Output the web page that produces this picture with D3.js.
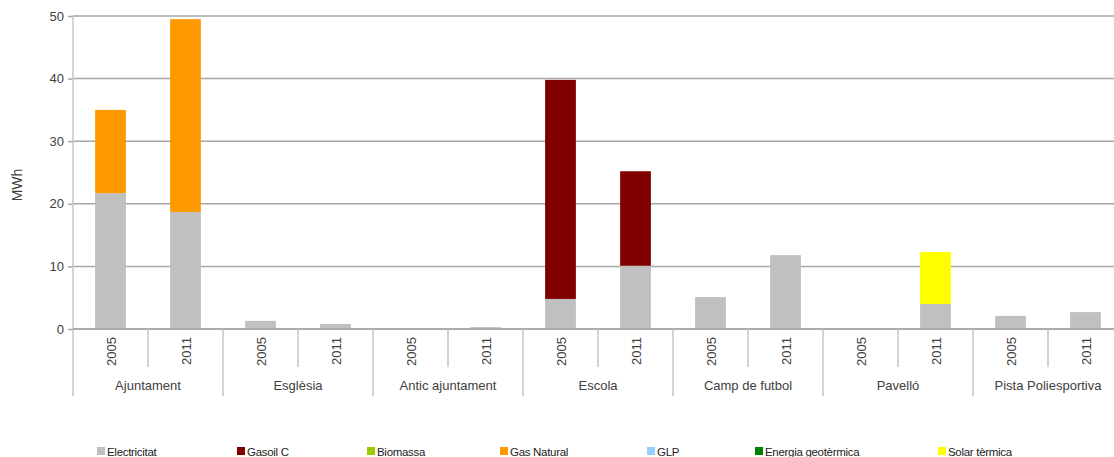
<!DOCTYPE html>
<html><head><meta charset="utf-8">
<script src="https://cdn.jsdelivr.net/npm/d3@7"></script>
<style>
html,body{margin:0;padding:0;background:#fff;}
svg{display:block;font-family:"Liberation Sans",Arial,sans-serif;}
</style></head>
<body>
<svg id="chart" width="1114" height="457"></svg>
<script>
// ---- data ----
const buildings = ["Ajuntament","Esglèsia","Antic ajuntament","Escola","Camp de futbol","Pavelló","Pista Poliesportiva"];
const years = ["2005","2011"];
const seriesNames = ["Electricitat","Gasoil C","Biomassa","Gas Natural","GLP","Energia geotèrmica","Solar tèrmica"];
const electricitat = [21.7,18.7, 1.3,0.8, 0,0.3, 4.8,10.1, 5.1,11.8, 0,4.0, 2.1,2.7];
const gasoilC      = [0,0, 0,0, 0,0, 35.0,15.1, 0,0, 0,0, 0,0];
const biomassa     = [0,0, 0,0, 0,0, 0,0, 0,0, 0,0, 0,0];
const gasNatural   = [13.3,30.8, 0,0, 0,0, 0,0, 0,0, 0,0, 0,0];
const glp          = [0,0, 0,0, 0,0, 0,0, 0,0, 0,0, 0,0];
const geotermica   = [0,0, 0,0, 0,0, 0,0, 0,0, 0,0, 0,0];
const solarTermica = [0,0, 0,0, 0,0, 0,0, 0,0, 0,8.3, 0,0];
const yTicks = [0,10,20,30,40,50];
const colors = ["#c0c0c0","#800000","#99cc00","#ff9900","#99ccff","#008000","#ffff00"];

(function(){
// ---- build table ----
const seriesValues = [electricitat,gasoilC,biomassa,gasNatural,glp,geotermica,solarTermica];
const rows = [];
buildings.forEach((b,bi)=>years.forEach((yr,yi)=>{
  const idx = bi*2+yi;
  const r = {idx, building:b, year:yr};
  seriesNames.forEach((s,si)=>r[s]=seriesValues[si][idx]);
  rows.push(r);
}));

const svg = d3.select("#chart");
const mLeft = 73, mRight = 1123, mTop = 16, mBottom = 329;
const x = d3.scaleBand().domain(rows.map(r=>r.idx)).range([mLeft,mRight]).padding(0);
const y = d3.scaleLinear().domain([0,50]).range([mBottom,mTop]);
const barW = x.bandwidth()*0.41;
const textCol = "#404040";
const gridCol = "#a6a6a6";
const sepCol = "#c4c4c4";

// gridlines + y axis
const yAxis = d3.axisLeft(y).tickValues(yTicks).tickSize(5).tickPadding(4).tickFormat(d3.format("d"));
const gy = svg.append("g").attr("transform",`translate(${mLeft},0)`).call(yAxis);
gy.select(".domain").remove();
gy.selectAll(".tick line").attr("stroke",gridCol).attr("stroke-width",1.5);
gy.selectAll(".tick text").attr("fill",textCol).style("font-size","13px").style("font-family","'Liberation Sans',Arial,sans-serif");
svg.append("g").selectAll("line").data(yTicks).join("line")
  .attr("x1",mLeft).attr("x2",mRight)
  .attr("y1",d=>y(d)).attr("y2",d=>y(d))
  .attr("stroke",gridCol).attr("stroke-width",1.5);

// y axis line (extends to bottom of category labels)
svg.append("line").attr("x1",mLeft).attr("x2",mLeft).attr("y1",mTop).attr("y2",396)
  .attr("stroke",sepCol).attr("stroke-width",1.5);

// stacked bars
const stack = d3.stack().keys(seriesNames);
const stacked = stack(rows);
svg.append("g").selectAll("g").data(stacked).join("g")
  .attr("fill",(d,i)=>colors[i])
  .selectAll("rect").data(d=>d.filter(p=>p[1]-p[0]>0)).join("rect")
  .attr("x",d=>x(d.data.idx)+(x.bandwidth()-barW)/2)
  .attr("width",barW)
  .attr("y",d=>y(d[1]))
  .attr("height",d=>y(d[0])-y(d[1]));

// redraw baseline over bars
svg.append("line").attr("x1",mLeft).attr("x2",mRight).attr("y1",y(0)).attr("y2",y(0))
  .attr("stroke",gridCol).attr("stroke-width",1.5);

// slot separators
const gx = svg.append("g");
rows.forEach(r=>{
  if(r.idx===0) return;
  const xx = x(r.idx);
  const isGroup = r.idx%2===0;
  gx.append("line").attr("x1",xx).attr("x2",xx).attr("y1",mBottom).attr("y2",isGroup?396:367)
    .attr("stroke",sepCol).attr("stroke-width",1.5);
});
// year labels
gx.selectAll("text.yr").data(rows).join("text").attr("class","yr")
  .attr("transform",d=>`translate(${x(d.idx)+x.bandwidth()/2+5},337) rotate(-90)`)
  .attr("text-anchor","end").attr("fill",textCol).style("font-size","13px")
  .text(d=>d.year);
// building labels
gx.selectAll("text.bl").data(buildings).join("text").attr("class","bl")
  .attr("x",(d,i)=>x(i*2+1))
  .attr("y",390).attr("text-anchor","middle").attr("fill",textCol).style("font-size","13px")
  .text(d=>d);

// y label
svg.append("text").attr("transform","translate(22,185) rotate(-90)")
  .attr("text-anchor","middle").attr("fill",textCol).style("font-size","14px").text("MWh");

// legend
const legendX = [97,237,367,500,647,755,938];
const lg = svg.append("g").selectAll("g").data(seriesNames).join("g")
  .attr("transform",(d,i)=>`translate(${legendX[i]},447)`);
lg.append("rect").attr("width",8).attr("height",8).attr("fill",(d,i)=>colors[i]);
lg.append("text").attr("x",10).attr("y",8.5).attr("fill","#222").style("font-size","11.5px")
  .style("letter-spacing","-0.3px").text(d=>d);
})();
</script>
</body></html>
